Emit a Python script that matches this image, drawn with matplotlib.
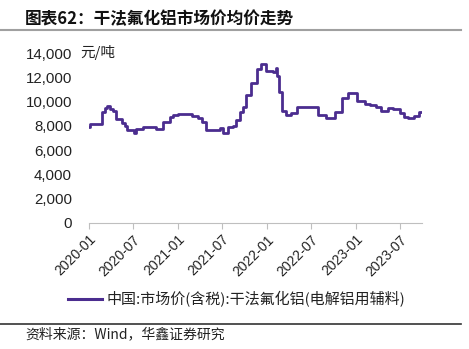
import numpy as np
import pandas as pd
import matplotlib
matplotlib.use('Agg')
import matplotlib.pyplot as plt
import matplotlib.dates as mdates
from matplotlib.ticker import FuncFormatter, MultipleLocator
from matplotlib.lines import Line2D

plt.rcParams['font.family'] = ['Liberation Sans', 'Noto Sans CJK SC', 'DejaVu Sans']

# --------------------------------------- Data -------------------------------------
dates = ['2020-01-01', '2020-01-06', '2020-02-23', '2020-03-08', '2020-03-15',
         '2020-03-28', '2020-04-11', '2020-04-22', '2020-05-15', '2020-05-29',
         '2020-06-05', '2020-07-05', '2020-07-13', '2020-08-09', '2020-10-05',
         '2020-11-02', '2020-11-29', '2020-12-13', '2021-01-02', '2021-02-26',
         '2021-03-25', '2021-04-08', '2021-04-28', '2021-06-22', '2021-07-05',
         '2021-07-26', '2021-08-15', '2021-08-29', '2021-09-12', '2021-09-25',
         '2021-10-09', '2021-10-29', '2021-11-22', '2021-12-09', '2021-12-30',
         '2022-01-26', '2022-02-09', '2022-02-12', '2022-02-20', '2022-03-05',
         '2022-03-22', '2022-04-11', '2022-05-05', '2022-07-30', '2022-09-02',
         '2022-10-06', '2022-11-06', '2022-11-29', '2023-01-07', '2023-02-06',
         '2023-02-26', '2023-03-25', '2023-04-15', '2023-05-12', '2023-06-02',
         '2023-07-02', '2023-07-19', '2023-08-02', '2023-08-29', '2023-09-16',
         '2023-09-26']
prices = [7900, 8150, 9180, 9450, 9650,
          9400, 9230, 8570, 8270, 7990,
          7660, 7390, 7720, 7880, 7720,
          8350, 8710, 8900, 8985, 8820,
          8630, 8350, 7660, 7800, 7440,
          7880, 7990, 8490, 9180, 9590,
          10560, 11570, 12680, 13120, 12570,
          12430, 12760, 12130, 10830, 9260,
          8900, 9040, 9535, 8900, 8630,
          9180, 10280, 10750, 10090, 9810,
          9730, 9535, 9260, 9450, 9370,
          9040, 8760, 8630, 8820, 9180,
          9180]

tick_dates = ['2020-01', '2020-07', '2021-01', '2021-07',
              '2022-01', '2022-07', '2023-01', '2023-07']

series_label = '中国:市场价(含税):干法氟化铝(电解铝用辅料)'
title = '图表62：干法氟化铝市场价均价走势'
source = '资料来源：Wind，华鑫证券研究'
unit = '元/吨'

# --------------------------------------- Plot -------------------------------------
W, H = 469, 349
fig = plt.figure(figsize=(W / 100, H / 100), dpi=100)

x0, x1 = 88.7, 421.7
yb, yt = 222.7, 53.3
ax = fig.add_axes([x0 / W, 1 - yb / H, (x1 - x0) / W, (yb - yt) / H])

line_color = '#4B2D8F'
d = pd.to_datetime(dates)
ax.step(d, prices, where='post', color=line_color, lw=2.0)

ax.set_ylim(0, 14000)
ax.set_xlim(pd.Timestamp('2020-01-01'), pd.Timestamp('2023-09-28'))
ax.yaxis.set_major_locator(MultipleLocator(2000))
ax.yaxis.set_major_formatter(FuncFormatter(lambda v, p: '{:,.0f}'.format(v)))
ax.set_xticks(pd.to_datetime(tick_dates))
ax.set_xticklabels(tick_dates, rotation=45, ha='right', rotation_mode='anchor')

for s in ['top', 'right', 'left']:
    ax.spines[s].set_visible(False)
ax.spines['bottom'].set_color('#bfbfbf')
ax.tick_params(axis='y', length=0, pad=12, labelsize=10.8, colors='#222222')
ax.tick_params(axis='x', length=4, color='#bfbfbf', labelsize=10, colors='#222222', pad=3)

# unit label next to top tick
fig.text(80 / W, 1 - 53 / H, unit, fontsize=10.5, va='center', ha='left',
         family=['Noto Sans CJK SC'], color='#222222')

# title and frame lines
fig.text(25 / W, 1 - 19 / H, title, fontsize=12, fontweight='bold', va='center',
         ha='left', family=['Noto Sans CJK SC'], color='#111111')
fig.add_artist(Line2D([0, 461 / W], [1 - 30 / H, 1 - 30 / H], color='#a0a0a0', lw=1.5))
fig.add_artist(Line2D([0, 461 / W], [1 - 324 / H, 1 - 324 / H], color='#333333', lw=1.2))
fig.text(25 / W, 1 - 334 / H, source, fontsize=10, va='center', ha='left',
         family=['Noto Sans CJK SC'], color='#222222')

# legend
fig.add_artist(Line2D([68 / W, 102 / W], [1 - 299 / H, 1 - 299 / H], color=line_color, lw=2.2))
fig.text(106 / W, 1 - 299 / H, series_label, fontsize=10.8, va='center', ha='left',
         family=['Noto Sans CJK SC'], color='#222222')

fig.savefig('out.png', dpi=100)
